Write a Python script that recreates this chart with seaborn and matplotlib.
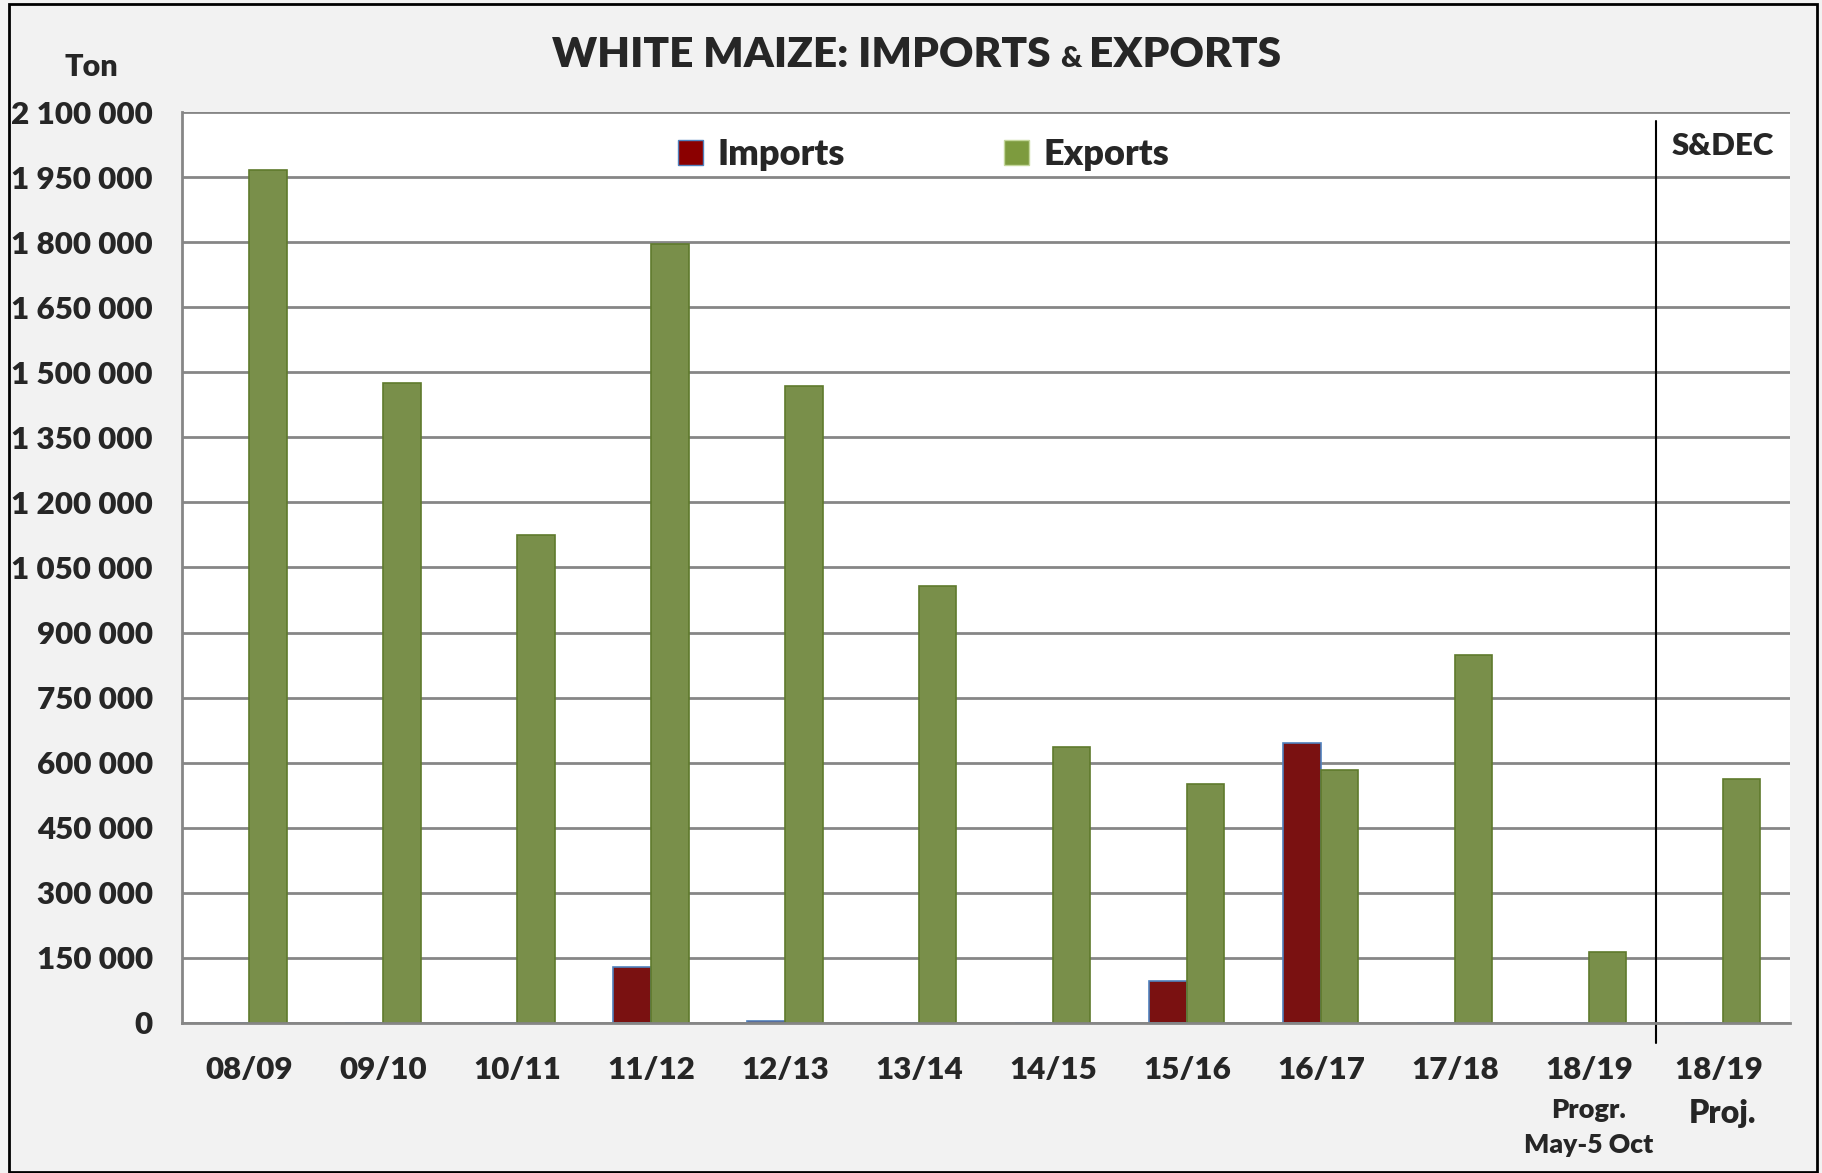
import matplotlib
matplotlib.use("Agg")
import matplotlib.pyplot as plt
import matplotlib.ticker as mticker
import matplotlib.transforms as mtransforms
from matplotlib.patches import Rectangle
import pandas as pd
import seaborn as sns

seasons = ["08/09", "09/10", "10/11", "11/12", "12/13", "13/14",
           "14/15", "15/16", "16/17", "17/18", "18/19", "18/19 "]
imports = [0, 0, 0, 128000, 5000, 0, 0, 96000, 645000, 0, 0, 0]
exports = [1966000, 1476000, 1125000, 1795000, 1468000, 1007000,
           637000, 552000, 584000, 849000, 163000, 562000]
yticks = list(range(0, 2100001, 150000))

df = pd.DataFrame({
    "season": seasons * 2,
    "kind": ["Imports"] * len(seasons) + ["Exports"] * len(seasons),
    "ton": imports + exports,
})

sns.set_style("white")
plt.rcParams["font.family"] = ["Lato", "DejaVu Sans"]
plt.rcParams["font.weight"] = "heavy"

fig = plt.figure(figsize=(18.22, 11.73), dpi=100)
fig.patch.set_facecolor("#f2f2f2")
ax = fig.add_axes([0.0999, 0.1279, 0.8825, 0.7766])
ax.set_facecolor("white")

sns.barplot(data=df, x="season", y="ton", hue="kind", order=seasons,
            hue_order=["Imports", "Exports"],
            palette={"Imports": "#8b0000", "Exports": "#7d9b3e"},
            width=0.56, gap=0, ax=ax, legend=False)

# edge colours like the excel bevel
for bar, k in zip(ax.patches, ["Imports"] * len(seasons) + ["Exports"] * len(seasons)):
    if k == "Imports":
        bar.set_edgecolor("#4f81bd")
    else:
        bar.set_edgecolor("#5f7a2c")
    bar.set_linewidth(1.2)

ax.set_xlim(-0.5, len(seasons) - 0.5)
ax.set_ylim(0, 2100000)
ax.set_yticks(yticks)
ax.yaxis.set_major_formatter(
    mticker.FuncFormatter(lambda v, p: f"{v:,.0f}".replace(",", " ")))
ax.grid(axis="y", color="#868686", linewidth=2)
ax.set_axisbelow(True)
for s in ["top", "right"]:
    ax.spines[s].set_visible(False)
for s in ["left", "bottom"]:
    ax.spines[s].set_color("#868686")
    ax.spines[s].set_linewidth(2)
ax.tick_params(axis="y", length=0, pad=21, labelsize=22.6)
ax.tick_params(axis="x", length=0, pad=24, labelsize=22.5)
for lab in ax.get_xticklabels() + ax.get_yticklabels():
    lab.set_fontweight("heavy")
ax.set_xlabel("")
ax.set_ylabel("")

trans = mtransforms.blended_transform_factory(ax.transData, ax.transAxes)
ax.text(10, -0.096, "Progr.", transform=trans, ha="center", va="center",
        fontsize=19.5, fontweight="heavy")
ax.text(10, -0.134, "May-5 Oct", transform=trans, ha="center", va="center",
        fontsize=19, fontweight="heavy")
ax.text(11, -0.099, "Proj.", transform=trans, ha="center", va="center",
        fontsize=23, fontweight="heavy")

# separator for the S&DEC projection
ax.axvline(10.5, ymin=-0.022, ymax=0.99, color="black", linewidth=1.5,
           clip_on=False)
ax.text(0.958, 0.963, "S&DEC", transform=ax.transAxes, ha="center",
        va="center", fontsize=22.5, fontweight="heavy")

handles = [Rectangle((0, 0), 1, 1, facecolor="#8b0000", edgecolor="#4f81bd"),
           Rectangle((0, 0), 1, 1, facecolor="#7d9b3e", edgecolor="#c4d79b")]
ax.legend(handles, ["Imports", "Exports"], loc="center",
          bbox_to_anchor=(0.461, 0.953), ncol=2, frameon=False,
          handlelength=0.7, handleheight=0.7,
          handletextpad=0.4, columnspacing=4.4,
          prop={"weight": "heavy", "size": 26})

# title with a smaller ampersand, laid out piece by piece
renderer = fig.canvas.get_renderer()
parts = [("WHITE MAIZE: IMPORTS ", 30.5), ("& ", 21), ("EXPORTS", 30.5)]
texts = [fig.text(0, 0.955, s, ha="left", va="baseline", fontsize=fs,
                  fontweight="heavy") for s, fs in parts]
widths = [t.get_window_extent(renderer).width for t in texts]
x = 0.5 * fig.bbox.width - 0.5 * sum(widths) + 0.003 * fig.bbox.width
for t, w in zip(texts, widths):
    t.set_x(x / fig.bbox.width)
    t.set_y(0.943)
    x += w

fig.text(0.05, 0.943, "Ton", ha="center", va="center", fontsize=22,
         fontweight="heavy")

fig.add_artist(Rectangle((0.005, 0.001), 0.992, 0.996, transform=fig.transFigure,
                         fill=False, edgecolor="black", linewidth=2))

fig.savefig("out.png", dpi=100, facecolor=fig.get_facecolor())
